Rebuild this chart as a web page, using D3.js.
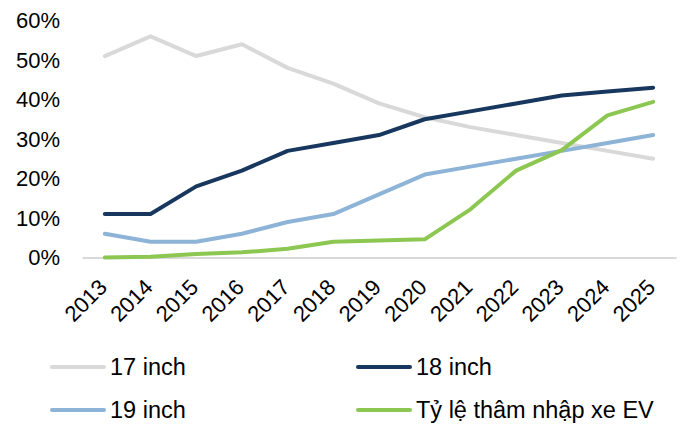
<!DOCTYPE html>
<html>
<head>
<meta charset="utf-8">
<script src="https://cdn.jsdelivr.net/npm/d3@7"></script>
<style>
  html, body { margin: 0; padding: 0; background: #fff; }
  svg { display: block; font-family: Arial, "Liberation Sans", sans-serif; }
</style>
</head>
<body>
<svg id="chart" width="680" height="425"></svg>
<script>
const years = ["2013","2014","2015","2016","2017","2018","2019","2020","2021","2022","2023","2024","2025"];
const seriesNames = ["17 inch", "18 inch", "19 inch", "Tỷ lệ thâm nhập xe EV"];
const inch17 = [0.51, 0.56, 0.51, 0.54, 0.48, 0.44, 0.39, 0.355, 0.33, 0.31, 0.29, 0.27, 0.25];
const inch18 = [0.11, 0.11, 0.18, 0.22, 0.27, 0.29, 0.31, 0.35, 0.37, 0.39, 0.41, 0.42, 0.43];
const inch19 = [0.06, 0.04, 0.04, 0.06, 0.09, 0.11, 0.16, 0.21, 0.23, 0.25, 0.27, 0.29, 0.31];
const evRate = [0.0, 0.002, 0.009, 0.013, 0.022, 0.04, 0.043, 0.046, 0.122, 0.22, 0.272, 0.36, 0.394];
const yTicks = [0, 0.1, 0.2, 0.3, 0.4, 0.5, 0.6];
const colors = ["#d9d9d9", "#17375e", "#8db3d7", "#8cc751"];

const allSeries = [inch17, inch18, inch19, evRate];
const svg = d3.select("#chart");

const x = d3.scaleBand().domain(years).range([82, 676]).padding(0);
const y = d3.scaleLinear().domain([0, 0.6]).range([257.5, 20.5]);

// Y axis labels
const yAxis = d3.axisLeft(y).tickValues(yTicks).tickFormat(d3.format(".0%")).tickSize(0).tickPadding(0);
const yg = svg.append("g").attr("transform", "translate(60,0)").call(yAxis);
yg.select(".domain").remove();
yg.selectAll("text").attr("font-size", 22).attr("fill", "#000")
  .attr("font-family", "Arial, 'Liberation Sans', sans-serif");

// X axis
const xAxis = d3.axisBottom(x).tickSize(0).tickPadding(0);
const xg = svg.append("g").attr("transform", `translate(0,${y(0)})`).call(xAxis);
xg.select(".domain").attr("stroke", "#d9d9d9").attr("stroke-width", 2);
xg.selectAll("text")
  .attr("font-size", 22).attr("fill", "#000")
  .attr("font-family", "Arial, 'Liberation Sans', sans-serif")
  .attr("text-anchor", "end")
  .attr("dy", null).attr("y", 0)
  .attr("transform", "translate(3.5,31) rotate(-45)");

// Lines
const line = d3.line()
  .x((d, i) => x(years[i]) + x.bandwidth() / 2)
  .y(d => y(d));

svg.append("g").selectAll("path")
  .data(allSeries)
  .join("path")
  .attr("d", d => line(d))
  .attr("fill", "none")
  .attr("stroke", (d, i) => colors[i])
  .attr("stroke-width", 4)
  .attr("stroke-linecap", "round")
  .attr("stroke-linejoin", "round");

// Legend
const legendPos = [[52, 367], [358, 367], [52, 410], [358, 410]];
const lg = svg.append("g").selectAll("g")
  .data(seriesNames)
  .join("g")
  .attr("transform", (d, i) => `translate(${legendPos[i][0]},${legendPos[i][1]})`);
lg.append("line")
  .attr("x1", 0).attr("x2", 52).attr("y1", 0).attr("y2", 0)
  .attr("stroke", (d, i) => colors[i])
  .attr("stroke-width", 4)
  .attr("stroke-linecap", "round");
lg.append("text")
  .attr("x", 58).attr("y", 0).attr("dy", "0.35em")
  .attr("font-size", 23.5).attr("fill", "#000")
  .text(d => d);
</script>
</body>
</html>
